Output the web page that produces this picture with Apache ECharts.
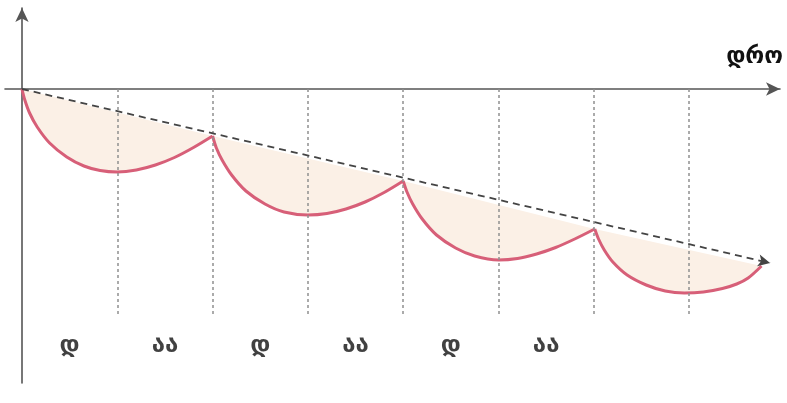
<!DOCTYPE html>
<html>
<head>
<meta charset="utf-8">
<script src="https://cdn.jsdelivr.net/npm/echarts@6/dist/echarts.min.js"></script>
<style>html,body{margin:0;padding:0;background:#fff}#c{width:787px;height:403px}</style>
</head>
<body>
<div id="c"></div>
<script>
// curve segments (x in time units, y in arbitrary units)
const seg1X = [0, 0.03, 0.08, 0.16, 0.29, 0.47, 0.65, 0.82, 1.0, 1.2, 1.4, 1.6, 1.8, 2.0];
const seg1Y = [0, -1.1, -2.4, -3.8, -5.4, -6.8, -7.7, -8.15, -8.3, -8.1, -7.6, -6.85, -5.85, -4.7];
const seg2X = [2.0, 2.04, 2.1, 2.2, 2.35, 2.55, 2.75, 3.0, 3.2, 3.4, 3.6, 3.8, 4.0];
const seg2Y = [-4.7, -5.9, -7.1, -8.6, -10.2, -11.5, -12.3, -12.6, -12.45, -12.0, -11.3, -10.35, -9.2];
const seg3X = [4.0, 4.04, 4.1, 4.2, 4.35, 4.55, 4.75, 5.0, 5.2, 5.4, 5.6, 5.8, 6.01];
const seg3Y = [-9.2, -10.3, -11.5, -13.0, -14.6, -15.9, -16.7, -17.1, -16.95, -16.5, -15.85, -15.0, -14.0];
const seg4X = [6.01, 6.05, 6.11, 6.2, 6.35, 6.55, 6.75, 6.95, 7.15, 7.35, 7.5, 7.62, 7.76];
const seg4Y = [-14.0, -15.0, -16.1, -17.3, -18.6, -19.6, -20.2, -20.4, -20.3, -19.95, -19.5, -18.9, -17.7];
// dashed trend line
const trendX = [0, 7.85];
const trendY = [0, -17.4];
// vertical guide lines
const guideX = [1, 2, 3, 4, 5, 6, 7];
const guideBottom = -22.7;
// bottom labels
const labelX = [0.5, 1.5, 2.5, 3.5, 4.5, 5.5];
const labelText = ['დ', 'აა', 'დ', 'აა', 'დ', 'აა'];
const labelY = -25.7;
const axisName = 'დრო';

const segsX = [seg1X, seg2X, seg3X, seg4X];
const segsY = [seg1Y, seg2Y, seg3Y, seg4Y];
const zip = (xs, ys) => xs.map((x, i) => [x, ys[i]]);

const curveColor = '#d75f78';
const fillColor = '#fbf0e6';

const series = [];
// fill between curve and trend
series.push({
  type: 'custom',
  silent: true,
  z: 1,
  data: segsX.map((_, i) => [i]),
  renderItem: function (params, api) {
    const i = api.value(0);
    const pts = zip(segsX[i], segsY[i]).map(p => api.coord(p));
    return { type: 'polygon', shape: { points: pts }, style: { fill: fillColor } };
  }
});
// vertical guides
series.push({
  type: 'line',
  data: [],
  silent: true,
  markLine: {
    silent: true,
    symbol: ['none', 'none'],
    label: { show: false },
    lineStyle: { color: '#909090', type: [3, 3], width: 1.5 },
    data: guideX.map(x => [{ coord: [x, 0] }, { coord: [x, guideBottom] }])
  },
  z: 2
});
// curves
segsX.forEach((xs, i) => {
  series.push({
    type: 'line',
    data: zip(xs, segsY[i]),
    smooth: 0.3,
    showSymbol: false,
    symbol: 'none',
    silent: true,
    lineStyle: { color: curveColor, width: 3 },
    z: 3
  });
});
// trend dashed line with arrow
series.push({
  type: 'line',
  data: [],
  silent: true,
  markLine: {
    silent: true,
    symbol: ['none', 'arrow'],
    symbolSize: [9, 12],
    label: { show: false },
    lineStyle: { color: '#444', type: [7, 5], width: 1.8 },
    data: [[{ coord: [trendX[0], trendY[0]] }, { coord: [trendX[1], trendY[1]] }]]
  },
  z: 4
});
// labels
series.push({
  type: 'scatter',
  symbolSize: 0,
  silent: true,
  data: labelX.map((x, i) => ({ value: [x, labelY], name: labelText[i] })),
  label: {
    show: true,
    position: 'inside',
    formatter: p => p.name,
    fontFamily: 'DejaVu Sans',
    fontWeight: 'bold',
    fontSize: 24,
    color: '#111'
  }
});

const chart = echarts.init(document.getElementById('c'), null, { renderer: 'canvas' });
chart.setOption({
  animation: false,
  backgroundColor: '#fff',
  grid: { left: 5, right: 7, top: 8, bottom: 20, containLabel: false, outerBoundsMode: 'none' },
  xAxis: {
    type: 'value', min: -0.178, max: 7.954,
    axisLine: { onZero: true, symbol: ['none', 'arrow'], symbolSize: [10, 14], lineStyle: { color: '#555', width: 1.6 } },
    axisTick: { show: false }, axisLabel: { show: false }, splitLine: { show: false }
  },
  yAxis: {
    type: 'value', min: -29.4, max: 8.1,
    axisLine: { onZero: true, symbol: ['none', 'arrow'], symbolSize: [10, 14], lineStyle: { color: '#555', width: 1.6 } },
    axisTick: { show: false }, axisLabel: { show: false }, splitLine: { show: false }
  },
  graphic: [{
    type: 'text', right: 4, top: 46,
    style: { text: axisName, fontFamily: 'DejaVu Sans', fontWeight: 'bold', fontSize: 23, fill: '#111' }
  }],
  series: series
});
</script>
</body>
</html>
